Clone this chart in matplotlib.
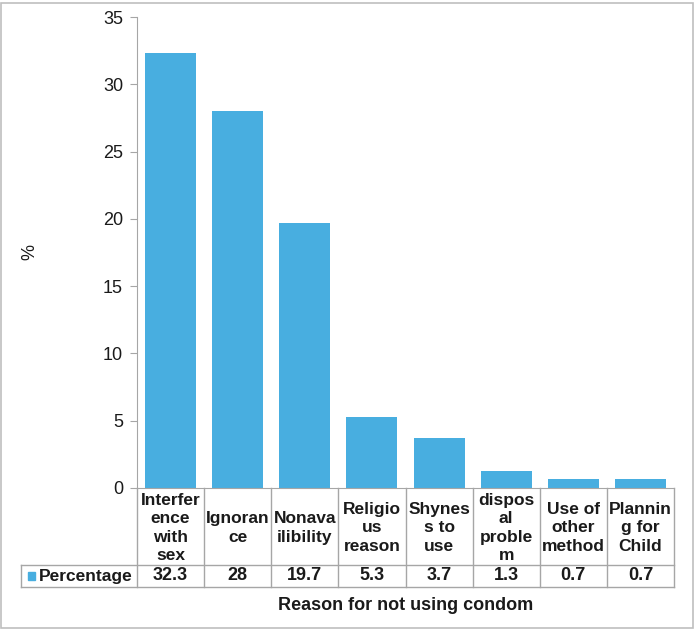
"""Bar chart with Excel-style data table: reasons for not using condom."""

import matplotlib
matplotlib.use("Agg")
import matplotlib.pyplot as plt
from matplotlib.patches import Rectangle

categories = [
    "Interfer\nence\nwith\nsex",
    "Ignoran\nce",
    "Nonava\nilibility",
    "Religio\nus\nreason",
    "Shynes\ns to\nuse",
    "dispos\nal\nproble\nm",
    "Use of\nother\nmethod",
    "Plannin\ng for\nChild",
]
values = [32.3, 28, 19.7, 5.3, 3.7, 1.3, 0.7, 0.7]
value_labels = ["32.3", "28", "19.7", "5.3", "3.7", "1.3", "0.7", "0.7"]
yticks = [0, 5, 10, 15, 20, 25, 30, 35]

BLUE = "#48AEE0"
GRID = "#A6A6A6"
TXT = "#1A1A1A"
W, H = 695, 629

plt.rcParams["font.family"] = ["Liberation Sans", "DejaVu Sans"]

fig = plt.figure(figsize=(W / 100, H / 100), dpi=100)
ax_l, ax_r, ax_t, ax_b = 137, 674, 17, 488
ax = fig.add_axes([ax_l / W, 1 - ax_b / H, (ax_r - ax_l) / W, (ax_b - ax_t) / H])

x = range(len(values))
ax.bar(x, values, width=0.76, color=BLUE)
ax.set_xlim(-0.5, len(values) - 0.5)
ax.set_ylim(0, 35)
ax.set_yticks(yticks)
ax.tick_params(axis="y", labelsize=13, length=5, color=GRID, pad=5,
               labelcolor=TXT)
ax.set_xticks([])
for s in ["top", "right"]:
    ax.spines[s].set_visible(False)
ax.spines["left"].set_color(GRID)
ax.spines["bottom"].set_color(GRID)

fig.text(30 / W, 1 - 252 / H, "%", rotation=90, ha="center", va="center",
         fontsize=13, color=TXT)

# data table below the axes, in axes-fraction y
ah = ax_b - ax_t
cw = (ax_r - ax_l) / len(values)
row1 = -(565 - ax_b) / ah
row2 = -(587 - ax_b) / ah
left = -0.5 - (ax_l - 21) / cw
tr = ax.get_xaxis_transform()
kw = dict(color=GRID, lw=1, transform=tr, clip_on=False)

for b in range(len(values) + 1):
    ax.plot([b - 0.5, b - 0.5], [0, row2], **kw)
ax.plot([left, left], [row1, row2], **kw)
ax.plot([left, len(values) - 0.5], [row1, row1], **kw)
ax.plot([left, len(values) - 0.5], [row2, row2], **kw)

for i, (c, v) in enumerate(zip(categories, value_labels)):
    ax.text(i, row1 / 2 - 0.003, c, transform=tr, ha="center", va="center",
            fontsize=12.5, fontweight="bold", linespacing=1.28, color=TXT)
    ax.text(i, (row1 + row2) / 2, v, transform=tr, ha="center", va="center",
            fontsize=13, fontweight="bold", color=TXT)

# legend key + series name
ax.add_patch(Rectangle((left + 0.1, (row1 + row2) / 2 - 0.009), 0.11, 0.018,
                       transform=tr, color=BLUE, clip_on=False))
ax.text(left + 0.26, (row1 + row2) / 2, "Percentage", transform=tr,
        ha="left", va="center", fontsize=12.5, fontweight="bold", color=TXT)

fig.text((ax_l + ax_r) / 2 / W, 1 - 605 / H, "Reason for not using condom",
         ha="center", va="center", fontsize=13, fontweight="bold", color=TXT)

fig.patches.append(Rectangle((0.5 / W, 1.5 / H), (W - 3) / W, (H - 4) / H,
                             transform=fig.transFigure, fill=False,
                             edgecolor="#BFBFBF", lw=1.2))

fig.savefig("out.png", dpi=100)
